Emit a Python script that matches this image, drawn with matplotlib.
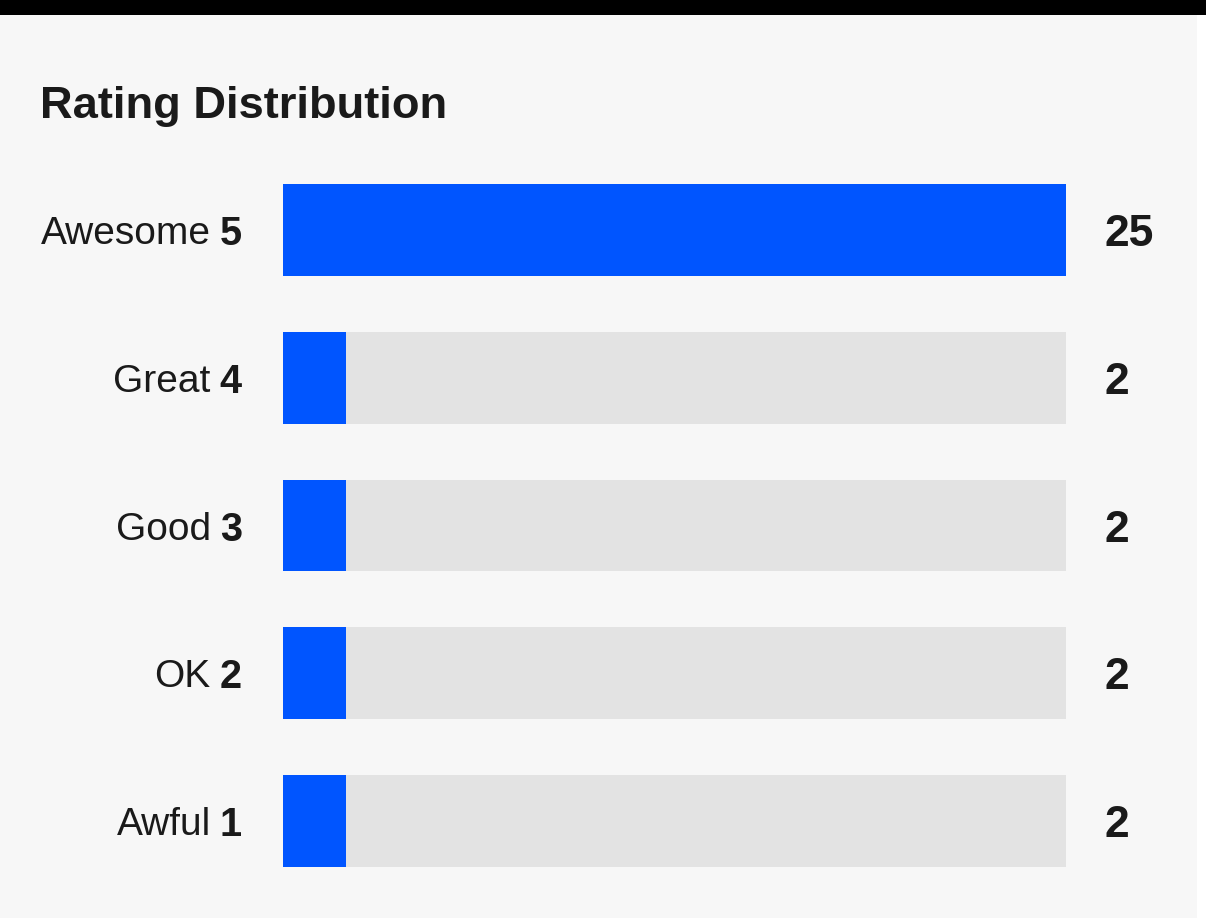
import matplotlib
matplotlib.use("Agg")
import matplotlib.pyplot as plt
from matplotlib import transforms
from matplotlib.patches import Rectangle

# data
labels = ["Awesome", "Great", "Good", "OK", "Awful"]
stars = ["5", "4", "3", "2", "1"]
counts = [25, 2, 2, 2, 2]

blue = "#0055ff"
track = "#e3e3e3"
ink = "#1a1a1a"

plt.rcParams['font.family'] = ['Liberation Sans', 'DejaVu Sans']

W, H = 1206, 918
fig = plt.figure(figsize=(W / 100, H / 100), dpi=100)
fig.patch.set_facecolor("white")

# panel background + black band on top
fig.add_artist(Rectangle((0, 0), 1197 / W, 1 - 15 / H, transform=fig.transFigure,
                         facecolor="#f7f7f7", edgecolor="none", zorder=-10))
fig.add_artist(Rectangle((0, 1 - 15 / H), 1, 15 / H, transform=fig.transFigure,
                         facecolor="black", edgecolor="none", zorder=-10))

fig.text(40 / W, 1 - 118 / H, "Rating Distribution", fontsize=32.6, fontweight="bold",
         color=ink, va="baseline", ha="left")

ax = fig.add_axes([283 / W, 1 - 867 / H, 783 / W, (867 - 184) / H])
ax.set_zorder(5)
ax.set_facecolor("none")
ypos = list(range(len(counts)))
bar_h = 92 / 148
top = max(counts)
ax.barh(ypos, [top] * len(counts), height=bar_h, color=track, linewidth=0)
ax.barh(ypos, counts, height=bar_h, color=blue, linewidth=0)
ax.set_xlim(0, top)
ax.set_ylim(len(counts) - 1 + bar_h / 2, -bar_h / 2)
ax.axis("off")

tr = transforms.blended_transform_factory(fig.transFigure, ax.transData)
fig.canvas.draw()
renderer = fig.canvas.get_renderer()
for y, lab, s, c in zip(ypos, labels, stars, counts):
    num = ax.text(242 / W, y, s, transform=tr, fontsize=28.5, fontweight="bold",
                  color=ink, ha="right", va="center_baseline", clip_on=False)
    bb = num.get_window_extent(renderer)
    x_word = (bb.x0 - 9) / W
    ax.text(x_word, y, lab, transform=tr, fontsize=28, color=ink,
            ha="right", va="center_baseline", clip_on=False)
    ax.text(1105 / W, y, str(c), transform=tr, fontsize=32, fontweight="bold",
            color=ink, ha="left", va="center_baseline", clip_on=False)

fig.savefig("out.png", dpi=100, facecolor=fig.get_facecolor())
